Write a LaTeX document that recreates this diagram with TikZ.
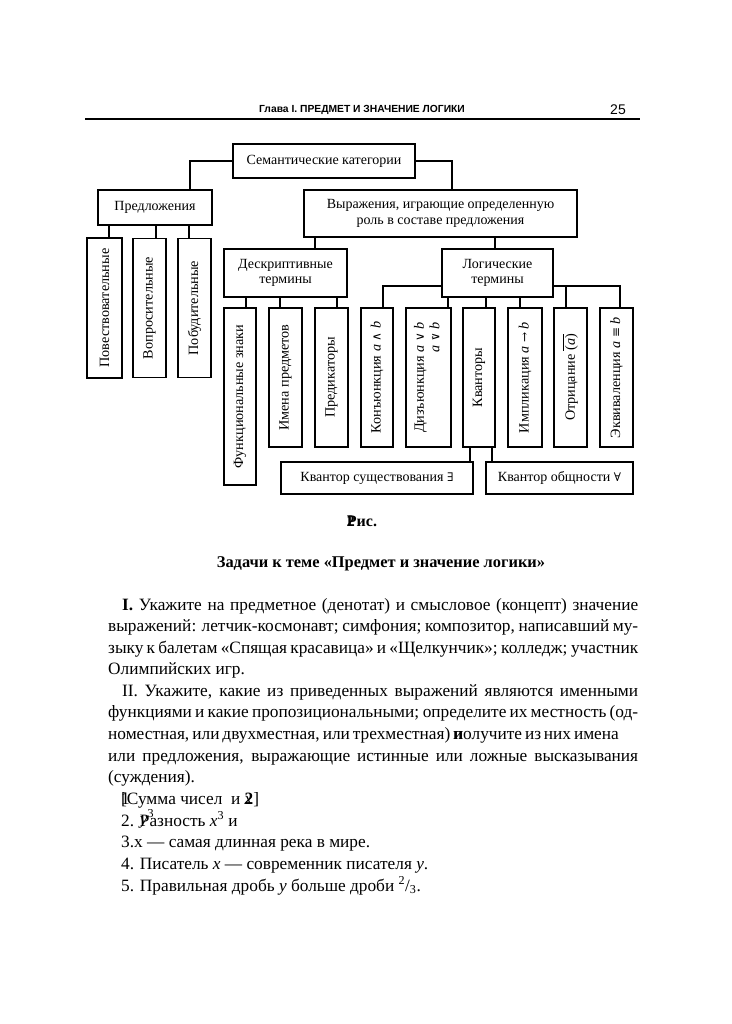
\RequirePackage{fix-cm}
\documentclass[tikz,border=0pt]{standalone}
\usepackage{fontspec}
\setmainfont{Liberation Serif}
\newfontfamily\headsans{Liberation Sans}
\newfontfamily\symserif[Scale=0.85]{DejaVu Serif}
\usetikzlibrary{positioning}

\newcommand\diagfont{\rmfamily\fontsize{14}{15.5}\selectfont}
\newcommand\vertfont{\rmfamily\fontsize{14.2}{15.5}\selectfont}
\newcommand\bodyfont{\rmfamily\fontsize{17.3}{21.5}\selectfont}
\newcommand\fullline[1]{\makebox[530pt][s]{#1}}
\newcommand\indline[1]{\makebox[516pt][s]{#1}}
\newcommand\lop[1]{{\symserif #1}}
\newcommand\dotvee{\lop{\ooalign{∨\cr\hidewidth\raisebox{0.5em}{.}\hidewidth\cr}}}

\begin{document}
\begin{tikzpicture}[x=1pt, y=-1pt,
    catBox/.style={draw, line width=1.1pt, inner sep=0pt, align=center, font=\diagfont},
    termBox/.style={draw, line width=1.1pt, inner sep=0pt, minimum width=33pt, minimum height=139pt, font=\vertfont},
    link/.style={line width=1.1pt},
    pageText/.style={anchor=base west, inner sep=0pt, font=\bodyfont}
  ]
  \fill[white] (0,0) rectangle (731,1024);
  \useasboundingbox (0,0) rectangle (731,1024);

  % Running head
  \node[anchor=base, inner sep=0pt, font=\headsans\bfseries\fontsize{10.3}{12}\selectfont] (head) at (362,113) {Глава I. ПРЕДМЕТ И ЗНАЧЕНИЕ ЛОГИКИ};
  \node[anchor=base east, inner sep=0pt, font=\headsans\fontsize{14}{16}\selectfont] (folio) at (626,115) {25};
  \draw[line width=1.2pt] (85,119) -- (640,119);

  % Upper levels
  \node[catBox, minimum width=182pt, minimum height=34pt, at={(324,161)}] (sem) {Семантические категории};
  \node[catBox, minimum width=114pt, minimum height=35pt, at={(155,207.5)}] (pred) {Предложения};
  \node[catBox, minimum width=273pt, minimum height=47pt, at={(440.5,213.5)}] (vyr) {Выражения, играющие определенную\\роль в составе предложения};

  % Kinds of sentences
  \node[termBox, minimum width=35pt, minimum height=140pt, at={(104.5,308)}] (povest) {\rotatebox{90}{Повествовательные}};
  \node[termBox, at={(149.5,308)}] (vopros) {\rotatebox{90}{Вопросительные}};
  \node[termBox, at={(194.5,308)}] (pobud) {\rotatebox{90}{Побудительные}};

  % Terms
  \node[catBox, minimum width=123pt, minimum height=48pt, at={(285.5,273)}] (deskr) {Дескриптивные\\термины};
  \node[catBox, minimum width=111pt, minimum height=48pt, at={(497.5,273)}] (logic) {Логические\\термины};

  \node[termBox, minimum width=32pt, minimum height=177pt, at={(240,396.5)}] (funk) {\rotatebox{90}{Функциональные знаки}};
  \node[termBox, at={(285.5,377.5)}] (imena) {\rotatebox{90}{Имена предметов}};
  \node[termBox, at={(331.5,377.5)}] (predik) {\rotatebox{90}{Предикаторы}};
  \node[termBox, minimum width=32pt, at={(377,377.5)}] (konj) {\rotatebox{90}{Конъюнкция \textit{a} \lop{∧} \textit{b}}};
  \node[termBox, minimum width=45pt, at={(428.5,377.5)}] (disj) {\rotatebox{90}{\begin{tabular}{@{}r@{}}Дизъюнкция \textit{a} \lop{∨} \textit{b}\\ \textit{a} \dotvee{} \textit{b}\end{tabular}}};
  \node[termBox, minimum width=32pt, at={(479,377.5)}] (kvant) {\rotatebox{90}{Кванторы}};
  \node[termBox, minimum width=34pt, at={(525,377.5)}] (impl) {\rotatebox{90}{Импликация \textit{a} \lop{→} \textit{b}}};
  \node[termBox, at={(570.5,377.5)}] (otric) {\rotatebox{90}{Отрицание $\overline{\mbox{(\textit{a})}}$}};
  \node[termBox, at={(616.5,377.5)}] (ekv) {\rotatebox{90}{Эквиваленция \textit{a} \lop{≡} \textit{b}}};

  \node[catBox, minimum width=192pt, minimum height=32pt, at={(377,478)}] (exist) {Квантор существования \lop{∃}};
  \node[catBox, minimum width=147pt, minimum height=32pt, at={(559.5,478)}] (univ) {Квантор общности \lop{∀}};

  % Connectors
  \draw[link] (sem.west) -| ([xshift=35pt]pred.north);
  \draw[link] (sem.east) -| ([xshift=11.5pt]vyr.north);
  \foreach \child/\dx in {povest/4.5, vopros/6.5, pobud/-5.5}
    \draw[link] ([xshift=\dx pt]\child.north) -- ([xshift=\dx pt]\child.north |- pred.south);
  \draw[link] ([xshift=29.5pt]deskr.north) -- ([xshift=29.5pt]deskr.north |- vyr.south);
  \draw[link] ([xshift=-2.5pt]logic.north) -- ([xshift=-2.5pt]logic.north |- vyr.south);
  \foreach \child/\dx in {funk/6, imena/-5.5, predik/5.5}
    \draw[link] ([xshift=\dx pt]\child.north) -- ([xshift=\dx pt]\child.north |- deskr.south);
  \foreach \child/\dx in {disj/19.5, kvant/7, impl/-5}
    \draw[link] ([xshift=\dx pt]\child.north) -- ([xshift=\dx pt]\child.north |- logic.south);
  \coordinate (barL) at ([yshift=-13pt]logic.west);
  \coordinate (barR) at ([yshift=-13pt]logic.east);
  \draw[link] (barL) -| ([xshift=6pt]konj.north);
  \draw[link] (barR) -| ([xshift=3.5pt]ekv.north);
  \draw[link] ([xshift=-4.5pt]otric.north) -- ([xshift=-4.5pt]otric.north |- barR);
  \draw[link] ([xshift=-9pt]kvant.south) -- ([xshift=-9pt]kvant.south |- exist.north);
  \draw[link] ([xshift=13pt]kvant.south) -- ([xshift=13pt]kvant.south |- univ.north);

  % Caption and tasks
  \node[anchor=base, inner sep=0pt, font=\rmfamily\bfseries\fontsize{16}{18}\selectfont] (fig) at (362,526) {\rlap{2}Рис.};
  \node[anchor=base, inner sep=0pt, font=\rmfamily\bfseries\fontsize{16.4}{18}\selectfont] (title) at (381,567) {Задачи к теме «Предмет и значение логики»};

  \node[pageText] (l1) at (122,610) {\indline{\textbf{I.} Укажите на предметное (денотат) и смысловое (концепт) значение}};
  \node[pageText] (l2) at (108,631) {\fullline{выражений: летчик-космонавт; симфония; композитор, написавший му-}};
  \node[pageText] (l3) at (108,653) {\fullline{зыку к балетам «Спящая красавица» и «Щелкунчик»; колледж; участник}};
  \node[pageText] (l4) at (108,674) {Олимпийских игр.};
  \node[pageText] (l5) at (122,696) {\indline{II. Укажите, какие из приведенных выражений являются именными}};
  \node[pageText] (l6) at (108,717) {\fullline{функциями и какие пропозициональными; определите их местность (од-}};
  \node[pageText] (l7) at (108,739) {\makebox[480pt][s]{номестная, или двухместная, или трехместная) \rlap{п}\textbf{и}олучите из них имена}};
  \node[pageText] (l8) at (108,761) {\fullline{или предложения, выражающие истинные или ложные высказывания}};
  \node[pageText] (l9) at (108,782) {(суждения).};
  \node[pageText] (l10) at (121,804) {\rlap{1}{[}Сумма чисел\ \ и \rlap{\textit{x}}\textbf{2}{]}};
  \node[pageText] (l11) at (121,826) {2. \rlap{\raisebox{2pt}{\textit{y}\textsuperscript{3}}}Разность \textit{x}\textsuperscript{3} и};
  \node[pageText] (l12) at (121,847) {3.x — самая длинная река в мире.};
  \node[pageText] (l13) at (121,869) {4. Писатель \textit{x} — современник писателя \textit{y}.};
  \node[pageText] (l14) at (121,891) {5. Правильная дробь \textit{y} больше дроби \textsuperscript{2}/\textsubscript{3}.};
\end{tikzpicture}
\end{document}
